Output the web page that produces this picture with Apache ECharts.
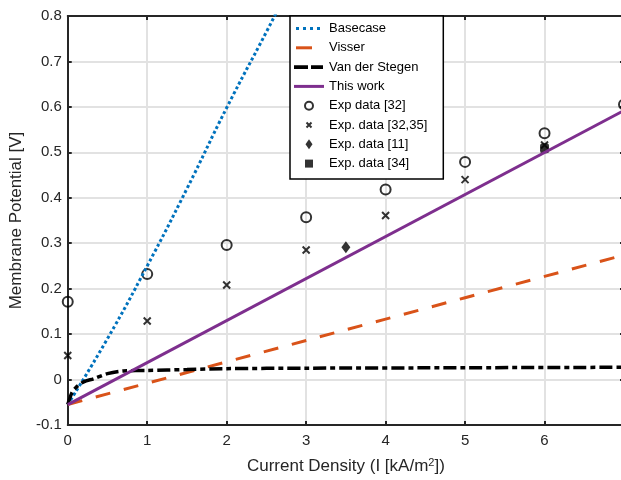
<!DOCTYPE html>
<html>
<head>
<meta charset="utf-8">
<script src="https://cdn.jsdelivr.net/npm/echarts@6/dist/echarts.min.js"></script>
<style>html,body{margin:0;padding:0;background:#fff;overflow:hidden}#c{width:625px;height:480px}</style>
</head>
<body>
<div id="c"></div>
<script>
var xTicks = [0, 1, 2, 3, 4, 5, 6];
var basecaseX = [0, 0.5, 1, 1.5, 2, 2.5, 2.75];
var basecaseY = [-0.055, 0.09, 0.25, 0.42, 0.598, 0.765, 0.85];
var visserX = [0, 1, 2, 3, 4, 5, 6, 7];
var visserY = [-0.055, -0.008, 0.039, 0.086, 0.133, 0.18, 0.227, 0.274];
var vdsX = [0, 0.05, 0.1, 0.2, 0.33, 0.5, 0.7, 1, 1.5, 2, 3, 5, 7];
var vdsY = [-0.055, -0.03, -0.018, -0.005, 0.002, 0.013, 0.019, 0.02, 0.022, 0.024, 0.025, 0.026, 0.027];
var thisX = [0, 7];
var thisY = [-0.055, 0.592];
var exp32X = [0, 1, 2, 3, 4, 5, 6, 7];
var exp32Y = [0.171, 0.232, 0.296, 0.357, 0.418, 0.479, 0.542, 0.605];
var exp3235X = [0, 1, 2, 3, 4, 5, 6];
var exp3235Y = [0.053, 0.129, 0.208, 0.285, 0.361, 0.44, 0.516];
var exp11X = [3.5];
var exp11Y = [0.291];
var exp34X = [6];
var exp34Y = [0.509];

function pairs(xs, ys) { return xs.map(function (x, i) { return [x, ys[i]]; }); }

var axisColor = '#262626';
var font = 'Liberation Sans, Arial, Helvetica, sans-serif';
var chart = echarts.init(document.getElementById('c'), null, {renderer: 'canvas'});
var crossPath = 'path://M0,0L10,10M10,0L0,10';
var B = 'path://M0,0M30,10';
var icons = {
  base: B + 'M2,3.5h3v3h-3zM9,3.5h3v3h-3zM16,3.5h3v3h-3zM23,3.5h3v3h-3z',
  visser: B + 'M2,3.5h16v3h-16z',
  vds: B + 'M0,3.2h14v3.6h-14zM17,3.2h12v3.6h-12z',
  thisw: B + 'M0,3.5h30v3h-30z',
  circ: B + 'M19,5A4,4 0 1,1 11,5A4,4 0 1,1 19,5z',
  cross: B + 'M12.5,2.5L17.5,7.5M17.5,2.5L12.5,7.5',
  diam: B + 'M15,0L18.5,5L15,10L11.5,5Z',
  sq: B + 'M11,1h8v8h-8z'
};

chart.setOption({
  animation: false,
  backgroundColor: '#fff',
  grid: {left: 67, right: 1, top: 16, bottom: 52, containLabel: false},
  xAxis: [{
    type: 'value', min: 0, max: 7, interval: 1, position: 'bottom',
    name: 'Current Density (I [kA/m{sup|2}])',
    nameLocation: 'middle', nameGap: 32,
    nameTextStyle: {color: axisColor, fontSize: 17, fontFamily: font,
      rich: {sup: {fontSize: 11, verticalAlign: 'top', padding: [0, 0, 8, 0], color: axisColor, fontFamily: font}}},
    axisLine: {show: true, onZero: false, lineStyle: {color: axisColor, width: 2}},
    axisTick: {show: true, inside: true, length: 4, lineStyle: {color: axisColor, width: 2}},
    axisLabel: {color: axisColor, fontSize: 15, fontFamily: font, margin: 8, showMaxLabel: false,
      formatter: function (v) { return xTicks.indexOf(v) >= 0 ? String(v) : ''; }},
    splitLine: {show: true, lineStyle: {color: '#e2e2e2', width: 2}}
  }, {
    type: 'value', min: 0, max: 7, interval: 1, position: 'top',
    axisLine: {show: true, onZero: false, lineStyle: {color: axisColor, width: 2}},
    axisTick: {show: true, inside: true, length: 4, lineStyle: {color: axisColor, width: 2}},
    axisLabel: {show: false}, splitLine: {show: false}
  }],
  yAxis: [{
    type: 'value', min: -0.1, max: 0.8, interval: 0.1, position: 'left',
    name: 'Membrane Potential [V]', nameLocation: 'middle', nameGap: 31, nameRotate: 90,
    nameTextStyle: {color: axisColor, fontSize: 17, fontFamily: font},
    axisLine: {show: true, onZero: false, lineStyle: {color: axisColor, width: 2}},
    axisTick: {show: true, inside: true, length: 4, lineStyle: {color: axisColor, width: 2}},
    axisLabel: {color: axisColor, fontSize: 15, fontFamily: font, margin: 6,
      formatter: function (v) { var r = Math.round(v * 10) / 10; return r === 0 ? '0' : r.toFixed(1); }},
    splitLine: {show: true, lineStyle: {color: '#e2e2e2', width: 2}}
  }, {
    type: 'value', min: -0.1, max: 0.8, interval: 0.1, position: 'right',
    axisLine: {show: true, onZero: false, lineStyle: {color: axisColor, width: 2}},
    axisTick: {show: true, inside: true, length: 4, lineStyle: {color: axisColor, width: 2}},
    axisLabel: {show: false}, splitLine: {show: false}
  }],
  legend: {
    orient: 'vertical', left: 290, top: 16,
    backgroundColor: '#fff', borderColor: '#000', borderWidth: 1.5,
    padding: [6, 16, 9, 3], itemWidth: 30, itemHeight: 10, itemGap: 6.3,
    symbolKeepAspect: true,
    textStyle: {color: '#000', fontSize: 13, fontFamily: font},
    data: [
      {name: 'Basecase', icon: icons.base, itemStyle: {color: '#0072BD', borderWidth: 0}},
      {name: 'Visser', icon: icons.visser, itemStyle: {color: '#D95319', borderWidth: 0}},
      {name: 'Van der Stegen', icon: icons.vds, itemStyle: {color: '#000', borderWidth: 0}},
      {name: 'This work', icon: icons.thisw, itemStyle: {color: '#7E2F8E', borderWidth: 0}},
      {name: 'Exp data [32]', icon: icons.circ, itemStyle: {color: 'rgba(255,255,255,0)', borderColor: '#000', borderWidth: 2}},
      {name: 'Exp. data [32,35]', icon: icons.cross, itemStyle: {color: '#000', borderColor: '#000', borderWidth: 2}},
      {name: 'Exp. data [11]', icon: icons.diam, itemStyle: {color: '#000', borderWidth: 0}},
      {name: 'Exp. data [34]', icon: icons.sq, itemStyle: {color: '#000', borderWidth: 0}}
    ]
  },
  series: [
    {name: 'Basecase', type: 'line', data: pairs(basecaseX, basecaseY), symbol: 'none', smooth: true,
      lineStyle: {color: '#0072BD', width: 3, type: [3, 2.5], cap: 'butt'}, itemStyle: {color: '#0072BD'}},
    {name: 'Visser', type: 'line', data: pairs(visserX, visserY), symbol: 'none',
      lineStyle: {color: '#D95319', width: 3, type: [15, 14], cap: 'butt'}, itemStyle: {color: '#D95319'}},
    {name: 'Van der Stegen', type: 'line', data: pairs(vdsX, vdsY), symbol: 'none', smooth: 0.3,
      lineStyle: {color: '#000', width: 3.5, type: [13, 4, 5, 4], cap: 'butt'}, itemStyle: {color: '#000'}},
    {name: 'This work', type: 'line', data: pairs(thisX, thisY), symbol: 'none',
      lineStyle: {color: '#7E2F8E', width: 3}, itemStyle: {color: '#7E2F8E'}},
    {name: 'Exp data [32]', type: 'scatter', data: pairs(exp32X, exp32Y), symbol: 'circle', symbolSize: 10,
      itemStyle: {color: 'rgba(255,255,255,0)', borderColor: '#000', borderWidth: 2}},
    {name: 'Exp. data [32,35]', type: 'scatter', data: pairs(exp3235X, exp3235Y), symbol: crossPath, symbolSize: 7,
      itemStyle: {color: '#000', borderColor: '#000', borderWidth: 2}},
    {name: 'Exp. data [11]', type: 'scatter', data: pairs(exp11X, exp11Y), symbol: 'diamond', symbolSize: [9, 12],
      itemStyle: {color: '#000'}},
    {name: 'Exp. data [34]', type: 'scatter', data: pairs(exp34X, exp34Y), symbol: 'roundRect', symbolSize: [9, 10],
      itemStyle: {color: '#000'}}
  ]
});
</script>
</body>
</html>
